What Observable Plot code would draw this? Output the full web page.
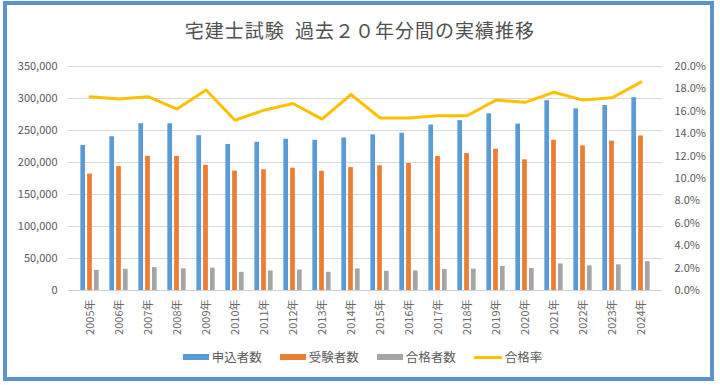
<!DOCTYPE html>
<html>
<head>
<meta charset="utf-8">
<script src="https://cdn.jsdelivr.net/npm/d3@7"></script>
<script src="https://cdn.jsdelivr.net/npm/@observablehq/plot@0.6"></script>
<style>
  body { margin: 0; background: #fff; width: 720px; height: 385px; position: relative; overflow: hidden; font-family: "Noto Sans CJK JP", "Noto Sans", sans-serif; }
  #frame { position: absolute; left: 3px; top: 1px; width: 711px; height: 380px; box-sizing: border-box; border: 4px solid #5b93cc; }
  #title { position: absolute; left: 0; top: 20px; width: 720px; text-align: center; font-size: 19px; line-height: 20px; letter-spacing: 1px; word-spacing: 5px; color: #505050; }
  #chart { position: absolute; left: 0; top: 48px; }
  #legend { position: absolute; left: 0; top: 349px; width: 725px; display: flex; justify-content: center; font-size: 12.5px; line-height: 16px; color: #595959; }
  .item { display: flex; align-items: center; margin: 0 9px; }
  .sw { width: 26px; height: 6px; margin-right: 3px; }
  .ln { width: 28px; height: 3px; margin-right: 3px; }
</style>
</head>
<body>
<div id="frame"></div>
<div id="title">宅建士試験 過去２０年分間の実績推移</div>
<div id="chart"></div>
<div id="legend"></div>
<script>
const years = ["2005","2006","2007","2008","2009","2010","2011","2012","2013","2014","2015","2016","2017","2018","2019","2020","2021","2022","2023","2024"];
const applicants = [226665,240278,260633,260591,241944,228214,231596,236350,234586,238343,243199,245742,258511,265444,276019,259984,296518,283856,289096,301336];
const examinees = [181880,193573,209684,209415,195515,186542,188572,191169,186304,192029,194926,198463,209354,213993,220797,204250,234714,226048,233276,241436];
const passers = [31520,33191,35733,33946,34918,28311,30391,32000,28470,33670,30028,30589,32644,33360,37481,34338,41471,38525,40025,44992];
const passRate = [17.3,17.1,17.3,16.2,17.9,15.2,16.1,16.7,15.3,17.5,15.4,15.4,15.6,15.6,17.0,16.8,17.7,17.0,17.2,18.6];
const leftTicks = [0,50000,100000,150000,200000,250000,300000,350000];
const rateTicks = [0,2,4,6,8,10,12,14,16,18,20];
const seriesNames = ["申込者数","受験者数","合格者数","合格率"];
const colors = ["#5b9bd5","#ed7d31","#a5a5a5","#ffc000"];

const yMax = 350000, rMax = 20;
const toLeft = r => r / rMax * yMax;
const rows = years.map((y, i) => ({year: y, a: applicants[i], e: examinees[i], p: passers[i], r: passRate[i]}));

const bw = (662 - 68) / years.length;
const w = 5.4, g = 1.4, side = (bw - 3 * w - 2 * g) / 2;

const chart = Plot.plot({
  width: 720,
  height: 300,
  marginLeft: 68,
  marginRight: 58,
  marginTop: 18,
  marginBottom: 58,
  style: {fontFamily: '"Noto Sans CJK JP", "Noto Sans", sans-serif', fontSize: "11px", color: "#595959", background: "transparent"},
  x: {type: "band", domain: years, padding: 0, label: null},
  y: {domain: [0, yMax], label: null},
  marks: [
    Plot.gridY(leftTicks, {stroke: "#d9d9d9", strokeOpacity: 1}),
    Plot.barY(rows, {x: "year", y: "a", fill: colors[0], insetLeft: side, insetRight: bw - side - w}),
    Plot.barY(rows, {x: "year", y: "e", fill: colors[1], insetLeft: side + w + g, insetRight: side + w + g}),
    Plot.barY(rows, {x: "year", y: "p", fill: colors[2], insetLeft: bw - side - w, insetRight: side}),
    Plot.ruleY([0], {stroke: "#d0d0d0"}),
    Plot.lineY(rows, {x: "year", y: d => toLeft(d.r), stroke: colors[3], strokeWidth: 3, strokeLinejoin: "round"}),
    Plot.axisY(leftTicks, {anchor: "left", tickSize: 0, tickPadding: 11, tickFormat: d3.format(","), label: null}),
    Plot.axisY(rateTicks.map(toLeft), {anchor: "right", tickSize: 0, tickPadding: 12, tickFormat: v => (v / yMax * rMax).toFixed(1) + "%", label: null}),
    Plot.axisX({tickRotate: -90, tickSize: 0, tickPadding: 9, tickFormat: d => d + "年", label: null, fill: "#6a6a6a"})
  ]
});
document.getElementById("chart").appendChild(chart);

const legend = document.getElementById("legend");
seriesNames.forEach((name, i) => {
  const item = document.createElement("div");
  item.className = "item";
  const sw = document.createElement("span");
  sw.className = i === 3 ? "ln" : "sw";
  sw.style.background = colors[i];
  const t = document.createElement("span");
  t.textContent = name;
  item.appendChild(sw); item.appendChild(t);
  legend.appendChild(item);
});
</script>
</body>
</html>
